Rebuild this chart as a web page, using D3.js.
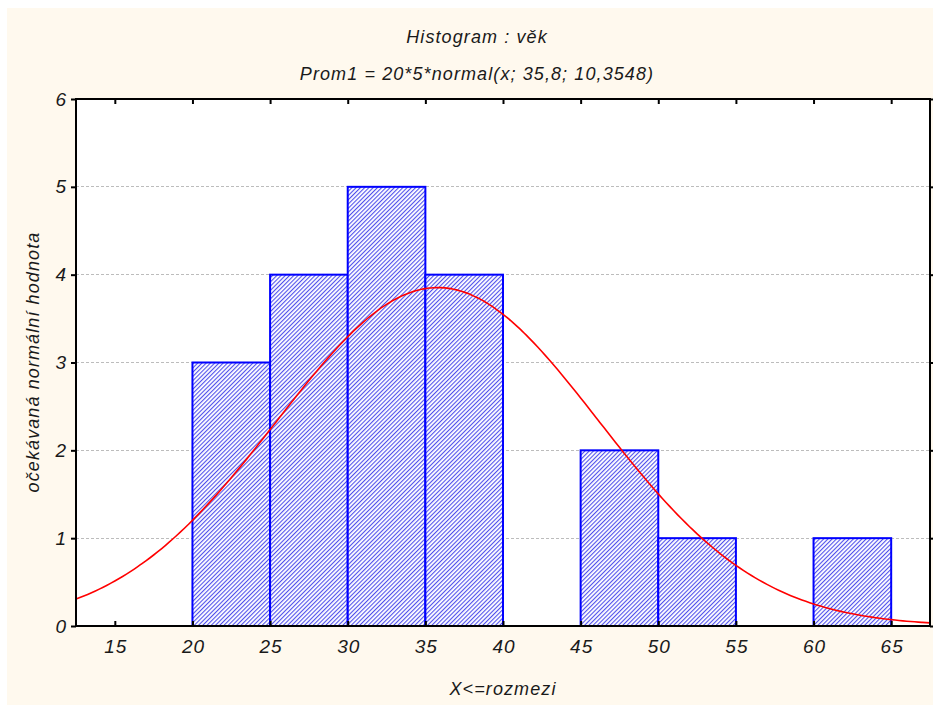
<!DOCTYPE html>
<html>
<head>
<meta charset="utf-8">
<script src="https://cdn.jsdelivr.net/npm/d3@7"></script>
<style>
  body { margin: 0; background: #fff; }
  text { font-family: "Liberation Sans", Arial, sans-serif; font-style: italic; fill: #1a1a1a; }
</style>
</head>
<body>
<div id="chart"></div>
<script>
// bins (upper bound "X<=rozmezi") and counts
const binStarts = [15, 20, 25, 30, 35, 40, 45, 50, 55, 60];
const counts    = [0, 3, 4, 5, 4, 0, 2, 1, 0, 1];
const binWidth = 5;
const xTicks = [15, 20, 25, 30, 35, 40, 45, 50, 55, 60, 65];
const yTicks = [0, 1, 2, 3, 4, 5, 6];
// fitted normal from the subtitle
const fitN = 20, fitMean = 35.8, fitSd = 10.3548;

const W = 933, H = 705;
const margin = { left: 76, top: 99, right: 3, bottom: 79 };

const svg = d3.select("#chart").append("svg")
    .attr("width", W).attr("height", H);

svg.append("rect").attr("x", 7).attr("y", 8).attr("width", W - 7).attr("height", H - 8)
    .attr("fill", "#fff9ee");

const defs = svg.append("defs");
const pat = defs.append("pattern")
    .attr("id", "hatch").attr("patternUnits", "userSpaceOnUse")
    .attr("width", 3).attr("height", 3)
    .attr("patternTransform", "rotate(45)");
pat.append("rect").attr("width", 3).attr("height", 3).attr("fill", "#ffffff");
pat.append("rect").attr("width", 1.1).attr("height", 3).attr("fill", "#5050ec");

const x = d3.scaleLinear().domain([12.5, 67.5]).range([margin.left, W - margin.right]);
const y = d3.scaleLinear().domain([0, 6]).range([H - margin.bottom, margin.top]);

// plot area
svg.append("rect")
    .attr("x", x.range()[0]).attr("y", y.range()[1])
    .attr("width", x.range()[1] - x.range()[0]).attr("height", y.range()[0] - y.range()[1])
    .attr("fill", "#fff");

// grid
svg.append("g").selectAll("line")
    .data(yTicks.slice(1, -1))
    .enter().append("line")
    .attr("x1", x.range()[0]).attr("x2", x.range()[1])
    .attr("y1", d => y(d)).attr("y2", d => y(d))
    .attr("stroke", "#bcbcbc").attr("stroke-width", 1)
    .attr("stroke-dasharray", "3,2")
    .attr("shape-rendering", "crispEdges");

// bars
svg.append("g").selectAll("rect")
    .data(binStarts.map((s, i) => ({ s: s, c: counts[i] })).filter(d => d.s >= 20))
    .enter().append("rect")
    .attr("x", d => x(d.s))
    .attr("y", d => y(d.c))
    .attr("width", d => x(d.s + binWidth) - x(d.s))
    .attr("height", d => y(0) - y(d.c))
    .attr("fill", "url(#hatch)")
    .attr("stroke", "#0000ff").attr("stroke-width", 2);

// normal curve
const xs = d3.range(12.5, 67.5001, 0.25);
const dens = v => fitN * binWidth * Math.exp(-0.5 * Math.pow((v - fitMean) / fitSd, 2)) / (fitSd * Math.sqrt(2 * Math.PI));
svg.append("path")
    .datum(xs)
    .attr("d", d3.line().x(d => x(d)).y(d => y(dens(d))).curve(d3.curveMonotoneX))
    .attr("fill", "none").attr("stroke", "#ff0000").attr("stroke-width", 1.6);

// frame
svg.append("rect")
    .attr("x", x.range()[0]).attr("y", y.range()[1])
    .attr("width", x.range()[1] - x.range()[0]).attr("height", y.range()[0] - y.range()[1])
    .attr("fill", "none").attr("stroke", "#000").attr("stroke-width", 2);

// axes
const fmt = d3.format("d");
const yAxis = svg.append("g").attr("transform", `translate(${x.range()[0]},0)`)
    .call(d3.axisLeft(y).tickValues(yTicks).tickFormat(fmt).tickSize(5).tickPadding(4));
const yAxisR = svg.append("g").attr("transform", `translate(${x.range()[1]},0)`)
    .call(d3.axisLeft(y).tickValues(yTicks).tickFormat("").tickSize(-4));
const xAxis = svg.append("g").attr("transform", `translate(0,${y.range()[0]})`)
    .call(d3.axisBottom(x).tickValues(xTicks).tickFormat(fmt).tickSize(-5).tickPadding(14));
const xAxisT = svg.append("g").attr("transform", `translate(0,${y.range()[1]})`)
    .call(d3.axisTop(x).tickValues(xTicks).tickFormat("").tickSize(-5));

[yAxis, yAxisR, xAxis, xAxisT].forEach(g => {
    g.select(".domain").remove();
    g.selectAll(".tick line").attr("stroke", "#000").attr("stroke-width", 2);
    g.selectAll("text").attr("font-size", 19).attr("fill", "#1a1a1a")
        .style("font-family", "'Liberation Sans', Arial, sans-serif").style("font-style", "italic")
        .style("letter-spacing", "1px");
});
xAxis.selectAll("text").attr("dy", "0.71em").attr("dx", "0.5");

// titles
const title = (tx, ty, s) => svg.append("text").attr("x", tx).attr("y", ty)
    .attr("text-anchor", "middle").attr("font-size", 18)
    .style("letter-spacing", "1.1px").text(s);
title(477, 43, "Histogram : věk");
title(477, 80, "Prom1 = 20*5*normal(x; 35,8; 10,3548)");
title(503, 695, "X<=rozmezi");
title(0, 0, "očekávaná normální hodnota").attr("transform", "translate(39,362) rotate(-90)");
</script>
</body>
</html>
